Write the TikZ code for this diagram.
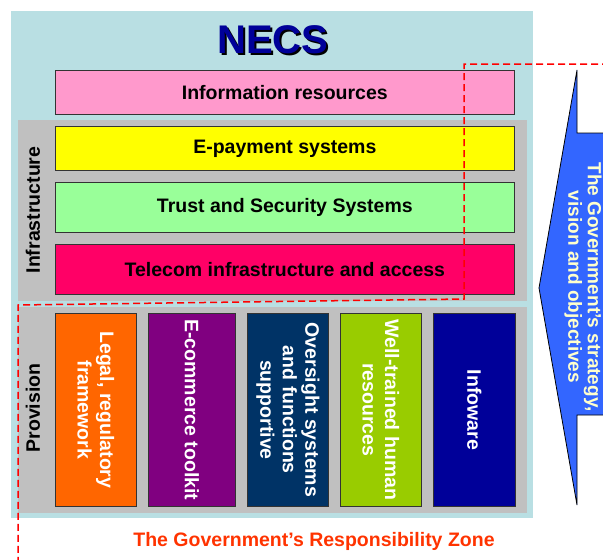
\documentclass[tikz,border=0pt]{standalone}
\usepackage{fontspec}
\setmainfont{Liberation Sans}
\definecolor{cyanbg}{HTML}{B9DFE3}
\definecolor{panelgray}{HTML}{C0C0C0}
\definecolor{pinkc}{HTML}{FF99CC}
\definecolor{yellowc}{HTML}{FFFF00}
\definecolor{greenc}{HTML}{99FF99}
\definecolor{redc}{HTML}{FF0066}
\definecolor{orangec}{HTML}{FF6600}
\definecolor{purplec}{HTML}{800080}
\definecolor{darkbluec}{HTML}{003366}
\definecolor{limec}{HTML}{99CC00}
\definecolor{navyc}{HTML}{000099}
\definecolor{arrowblue}{HTML}{3366FF}
\definecolor{arrowtext}{HTML}{FFFFCC}
\definecolor{zonered}{HTML}{FF3300}
\definecolor{dashred}{HTML}{FF0000}
\begin{document}
\begin{tikzpicture}[x=1pt,y=-1pt,
  hbox/.style={draw=black!80, line width=0.7pt, anchor=north west, inner sep=0pt,
    font=\fontsize{19.5}{22}\selectfont\bfseries, text=black},
  vbox/.style={draw=black!80, line width=0.7pt, anchor=north west, inner sep=0pt},
  vtext/.style={rotate=-90, align=center, text=white,
    font=\fontsize{19.5}{22.5}\selectfont\bfseries},
  sidelabel/.style={rotate=90, font=\fontsize{19.5}{22}\selectfont\bfseries, text=black},
  zone/.style={draw=dashred, line width=1.5pt, dash pattern=on 7pt off 4pt}
]
\useasboundingbox (0,0) rectangle (603,560);
% background
\fill[cyanbg] (11,11) rectangle (533,518);
\fill[panelgray] (18,120) rectangle (527,301);
\fill[panelgray] (18,307) rectangle (527,513);
% title
\node[font=\fontsize{40}{44}\selectfont\bfseries, text=black] (necsshadow) at (275,42) {NECS};
\node[font=\fontsize{40}{44}\selectfont\bfseries, text=navyc] (necs) at (273,40) {NECS};
% horizontal boxes
\node[hbox, fill=pinkc, minimum width=459pt, minimum height=44pt] (info) at (55,70) {Information resources};
\node[hbox, fill=yellowc, minimum width=459pt, minimum height=44pt] (epay) at (55,126) {E-payment systems};
\node[hbox, fill=greenc, minimum width=459pt, minimum height=50pt] (trust) at (55,182) {Trust and Security Systems};
\node[hbox, fill=redc, minimum width=459pt, minimum height=50pt] (telecom) at (55,244) {Telecom infrastructure and access};
\node[sidelabel] (infra) at (33,210) {Infrastructure};
% vertical boxes
\node[vbox, fill=orangec, minimum width=81pt, minimum height=193pt] (legal) at (55,313) {};
\node[vbox, fill=purplec, minimum width=87pt, minimum height=193pt] (ecom) at (148,313) {};
\node[vbox, fill=darkbluec, minimum width=81pt, minimum height=193pt] (over) at (247,313) {};
\node[vbox, fill=limec, minimum width=81pt, minimum height=193pt] (well) at (340,313) {};
\node[vbox, fill=navyc, minimum width=82pt, minimum height=193pt] (infow) at (433,313) {};
\node[vtext] (legalt) at (legal.center) {Legal, regulatory\\framework};
\node[vtext] (ecomt) at (ecom.center) {E-commerce toolkit};
\node[vtext] (overt) at (over.center) {Oversight systems\\and functions\\supportive};
\node[vtext] (wellt) at (well.center) {Well-trained human\\resources};
\node[vtext] (infowt) at (infow.center) {Infoware};
\node[sidelabel] (prov) at (33,408) {Provision};
% arrow and zone outline
\begin{scope}
\clip (0,0) rectangle (603,560);
\draw[fill=arrowblue, draw=black, line width=0.8pt, line join=miter]
  (577,70) -- (577,133) -- (620,133) -- (620,415) -- (577,415) -- (577,505) -- (539,288) -- cycle;
\node[rotate=-90, align=center, text=arrowtext, font=\fontsize{19}{19.5}\selectfont\bfseries] (strategy) at (583,287)
  {The Government’s strategy,\\vision and objectives};
\draw[zone] (620,64) -- (464,64) -- (464,299) -- (18,305) -- (18,570);
\end{scope}
\node[text=zonered, font=\fontsize{19.5}{22}\selectfont\bfseries] (zonelabel) at (314,541) {The Government’s Responsibility Zone};
\end{tikzpicture}
\end{document}
